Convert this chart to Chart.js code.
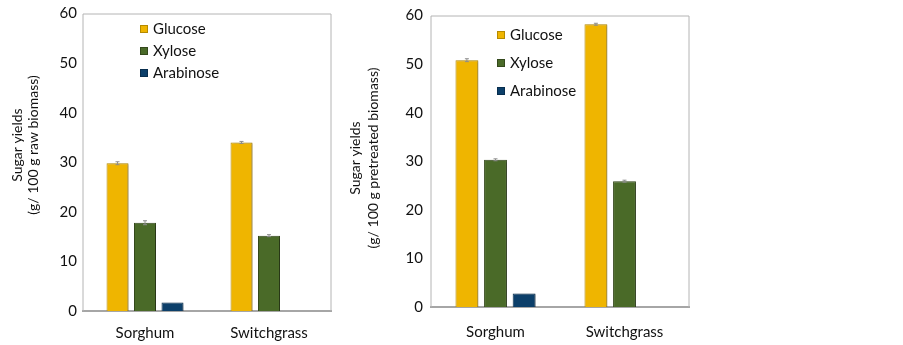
<!DOCTYPE html>
<html lang="en">
<head>
  <meta charset="UTF-8" />
  <title>Sugar yields</title>
  <script src="https://cdn.jsdelivr.net/npm/chart.js"></script>
  <style>
    body {
      margin: 0;
      background: #fff;
    }

    .wrap {
      position: relative;
      width: 903px;
      height: 345px;
    }

    #rawChart {
      position: absolute;
      left: 0;
      top: 0;
    }

    #pretChart {
      position: absolute;
      left: 340px;
      top: 0;
    }
  </style>
</head>
<body>
  <div class="wrap">
    <canvas id="rawChart" width="345" height="345"></canvas>
    <canvas id="pretChart" width="370" height="345"></canvas>
  </div>

  <script>
    const categories = ['Sorghum', 'Switchgrass'];
    const sugars = ['Glucose', 'Xylose', 'Arabinose'];
    const sugarColors = ['#EFB500', '#4A6A28', '#0C3F6A'];
    const sugarBorders = ['#B58A00', '#34491C', '#082E4E'];

    // g / 100 g raw biomass
    const rawGlucose = [29.8, 34.0];
    const rawXylose = [17.8, 15.2];
    const rawArabinose = [1.7, null];
    const rawGlucoseErr = [0.3, 0.2];
    const rawXyloseErr = [0.4, 0.2];
    const rawArabinoseErr = [0, 0];

    // g / 100 g pretreated biomass
    const pretGlucose = [50.8, 58.2];
    const pretXylose = [30.3, 25.9];
    const pretArabinose = [2.8, null];
    const pretGlucoseErr = [0.3, 0.2];
    const pretXyloseErr = [0.2, 0.2];
    const pretArabinoseErr = [0, 0];

    const FONT = "Lato, 'Liberation Sans', sans-serif";

    function makeSets(values, errs) {
      return sugars.map((name, i) => ({
        label: name,
        data: values[i],
        err: errs[i],
        backgroundColor: sugarColors[i],
        borderColor: sugarBorders[i],
        borderWidth: 1,
        categoryPercentage: 0.665,
        barPercentage: 0.8
      }));
    }

    // light drop shadow behind the bars
    const barShadow = {
      id: 'barShadow',
      beforeDatasetsDraw(chart) {
        const ctx = chart.ctx;
        ctx.save();
        ctx.shadowColor = 'rgba(0,0,0,0.28)';
        ctx.shadowOffsetX = 2;
        ctx.shadowOffsetY = 1;
        ctx.shadowBlur = 2;
      },
      afterDatasetsDraw(chart) {
        chart.ctx.restore();
      }
    };

    // small error bars + plot frame
    const errorBars = {
      id: 'errorBars',
      afterDatasetsDraw(chart) {
        const ctx = chart.ctx;
        const y = chart.scales.y;
        ctx.save();
        ctx.strokeStyle = '#8c8c8c';
        ctx.lineWidth = 1;
        chart.data.datasets.forEach((ds, di) => {
          const meta = chart.getDatasetMeta(di);
          meta.data.forEach((bar, i) => {
            const v = ds.data[i];
            const e = ds.err[i];
            if (v == null || !e) return;
            const top = y.getPixelForValue(v + e);
            const bot = y.getPixelForValue(v - e);
            ctx.beginPath();
            ctx.moveTo(bar.x, top);
            ctx.lineTo(bar.x, bot);
            ctx.moveTo(bar.x - 2, top);
            ctx.lineTo(bar.x + 2, top);
            ctx.moveTo(bar.x - 2, bot);
            ctx.lineTo(bar.x + 2, bot);
            ctx.stroke();
          });
        });
        const a = chart.chartArea;
        ctx.strokeStyle = '#b4b4b4';
        ctx.beginPath();
        ctx.moveTo(a.left, a.bottom);
        ctx.lineTo(a.left, a.top + 0.5);
        ctx.lineTo(a.right, a.top + 0.5);
        ctx.lineTo(a.right, a.bottom);
        ctx.stroke();
        ctx.restore();
      }
    };

    // legend drawn inside the plot, one entry per row
    const sugarLegend = {
      id: 'sugarLegend',
      afterDraw(chart, args, opts) {
        const ctx = chart.ctx;
        ctx.save();
        ctx.font = '15px ' + FONT;
        ctx.textBaseline = 'middle';
        chart.data.datasets.forEach((ds, i) => {
          const cy = opts.y + i * opts.gap;
          ctx.fillStyle = ds.backgroundColor;
          ctx.fillRect(opts.x, cy - 4, 8, 8);
          ctx.strokeStyle = ds.borderColor;
          ctx.strokeRect(opts.x + 0.5, cy - 3.5, 7, 7);
          ctx.fillStyle = '#111';
          ctx.fillText(ds.label, opts.x + 13, cy);
        });
        ctx.restore();
      }
    };

    // two-line rotated y title
    const yTitle = {
      id: 'yTitle',
      afterDraw(chart, args, opts) {
        const ctx = chart.ctx;
        ctx.save();
        ctx.font = '14px ' + FONT;
        ctx.fillStyle = '#111';
        ctx.textAlign = 'center';
        ctx.textBaseline = 'middle';
        opts.lines.forEach((line, i) => {
          ctx.save();
          ctx.translate(opts.x + i * opts.gap, opts.cy);
          ctx.rotate(-Math.PI / 2);
          ctx.fillText(line, 0, 0);
          ctx.restore();
        });
        ctx.restore();
      }
    };

    function makeChart(id, sets, o) {
      return new Chart(document.getElementById(id), {
        type: 'bar',
        data: { labels: categories, datasets: sets },
        options: {
          responsive: false,
          animation: false,
          layout: { padding: { top: o.top, right: o.right, left: 0, bottom: 0 } },
          scales: {
            x: {
              grid: { display: false },
              border: { display: true, color: '#a6a6a6', width: 2 },
              ticks: { color: '#111', padding: o.xPad, font: { family: FONT, size: 15 } },
              afterFit: s => { s.height = o.xHeight; }
            },
            y: {
              min: 0,
              max: 60,
              grid: { display: false, drawTicks: false },
              border: { display: false },
              ticks: { stepSize: 10, color: '#111', padding: o.yPad, font: { family: FONT, size: 15, lineHeight: 1 } },
              afterFit: s => { s.width = o.yWidth; }
            }
          },
          plugins: {
            legend: { display: false },
            tooltip: { enabled: false },
            sugarLegend: o.legend,
            yTitle: o.title
          }
        },
        plugins: [barShadow, errorBars, sugarLegend, yTitle]
      });
    }

    makeChart('rawChart',
      makeSets([rawGlucose, rawXylose, rawArabinose], [rawGlucoseErr, rawXyloseErr, rawArabinoseErr]),
      {
        top: 7, right: 14, xHeight: 34, xPad: 5, yWidth: 83, yPad: 6,
        legend: { x: 140, y: 29, gap: 22 },
        title: { x: 17, gap: 16, cy: 145, lines: ['Sugar yields', '(g/ 100 g raw biomass)'] }
      });

    makeChart('pretChart',
      makeSets([pretGlucose, pretXylose, pretArabinose], [pretGlucoseErr, pretXyloseErr, pretArabinoseErr]),
      {
        top: 8, right: 21, xHeight: 38, xPad: 8, yWidth: 91, yPad: 8,
        legend: { x: 157, y: 35, gap: 28 },
        title: { x: 15, gap: 18, cy: 158, lines: ['Sugar yields', '(g/ 100 g pretreated biomass)'] }
      });
  </script>
</body>
</html>
